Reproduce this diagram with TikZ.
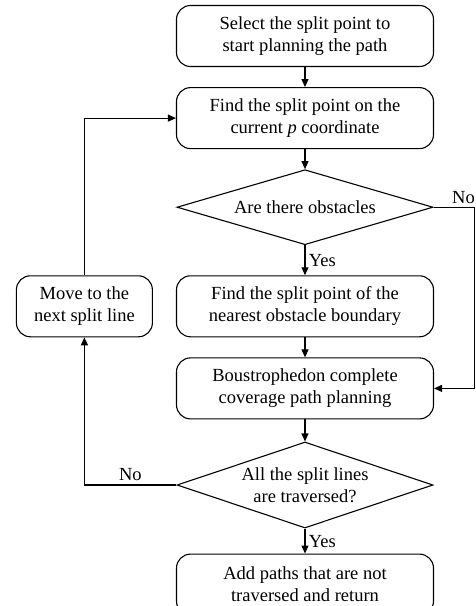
\documentclass[tikz,border=0pt]{standalone}
\usepackage{fontspec}
\setmainfont{Liberation Serif}
\usetikzlibrary{positioning, arrows.meta, shapes.geometric}

\begin{document}
\begin{tikzpicture}[
                x=1pt, y=1pt,
                node distance=20pt and 23pt,
                every node/.style={font=\fontsize{18.5}{22}\selectfont},
                process/.style={draw, rounded corners=14pt, line width=1.1pt, minimum width=257pt, minimum height=61pt, align=center},
                decision/.style={draw, diamond, aspect=3, inner sep=0pt, line width=1.1pt, minimum width=256pt, align=center},
                arrow/.style={-{Triangle[length=8pt,width=7pt]}, line width=1.1pt}
            ]
                \useasboundingbox (0,0) rectangle (475,-606);

                % Main column
                \node[process] (select) at (305,-36) {Select the split point to\\start planning the path};
                \node[process, below=of select] (find) {Find the split point on the\\current \textit{p} coordinate};
                \node[decision, minimum height=75pt, below=of find] (obstacles) {Are there obstacles};
                \node[process, below=30pt of obstacles] (nearest) {Find the split point of the\\nearest obstacle boundary};
                \node[process, below=of nearest] (coverage) {Boustrophedon complete\\coverage path planning};
                \node[decision, minimum height=86pt, below=22pt of coverage] (alldone) {All the split lines\\are traversed?};
                \node[process, below=25pt of alldone] (addpaths) {Add paths that are not\\traversed and return};

                % Side box
                \node[process, minimum width=136pt, left=of nearest] (move) {Move to the\\next split line};

                % Arrows and labels
                \draw[arrow] (select) -- (find);
                \draw[arrow] (find) -- (obstacles);
                \draw[arrow] (obstacles) -- node[right] {Yes} (nearest);
                \draw[arrow] (nearest) -- (coverage);
                \draw[arrow] (coverage) -- (alldone);
                \draw[arrow] (alldone) -- node[right] {Yes} (addpaths);
                \draw[arrow] (obstacles.east) -- node[pos=0.73, above] {No} ++(41,0) |- (coverage.east);
                \draw[arrow] (alldone.west) -| node[pos=0.25, above] {No} (move.south);
                \draw[arrow] (move.north) |- (find.west);
            \end{tikzpicture}
\end{document}
